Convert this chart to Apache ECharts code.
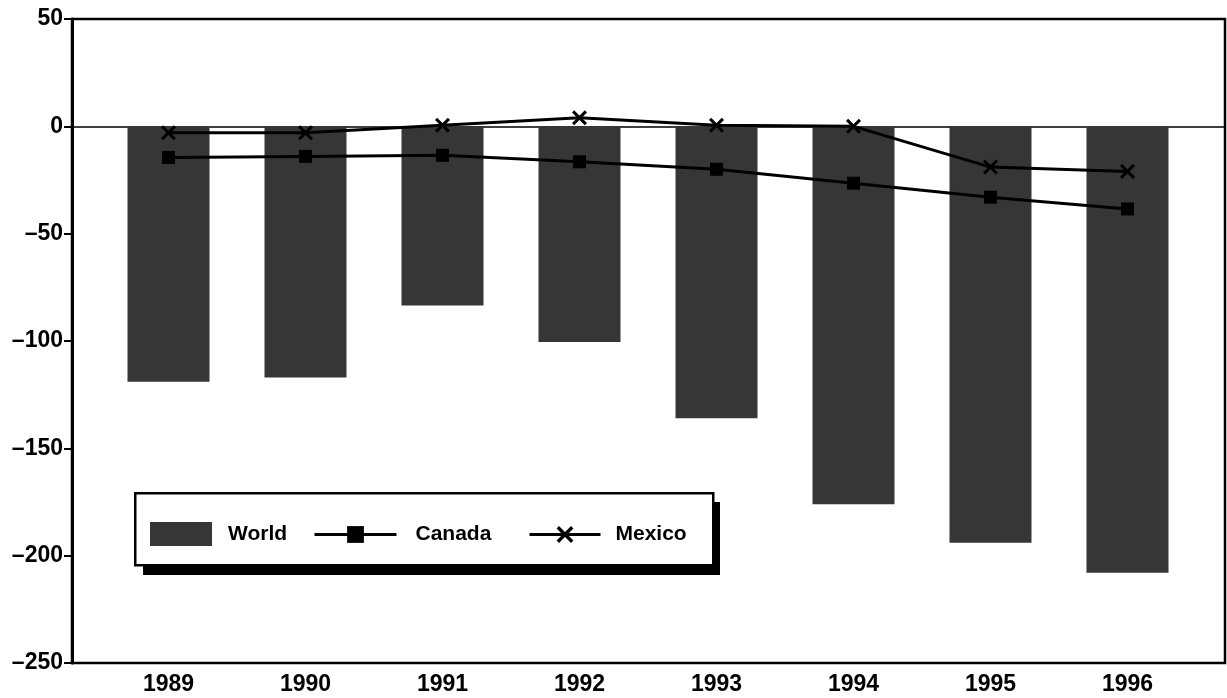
<!DOCTYPE html>
<html>
<head>
<meta charset="utf-8">
<script src="https://cdn.jsdelivr.net/npm/echarts@6/dist/echarts.min.js"></script>
<style>
html,body{margin:0;padding:0;background:#fff;}
#chart{width:1227px;height:698px;}
</style>
</head>
<body>
<div id="chart"></div>
<script>
const years = ['1989', '1990', '1991', '1992', '1993', '1994', '1995', '1996'];
const world = [-119, -117, -83.5, -100.5, -136, -176, -194, -208];
const canada = [-14.5, -14, -13.5, -16.5, -20, -26.5, -33, -38.5];
const mexico = [-3, -3, 0.5, 4, 0.5, 0, -19, -21];
const yMin = -250, yMax = 50, yStep = 50;

const FONT = 'Liberation Sans';
const labelFmt = v => (v < 0 ? '\u2013' + Math.abs(v) : String(v));
const xSymbol = 'path://M0,2L2,0L14,12L12,14Z M12,0L14,2L2,14L0,12Z';
const legendText = pad => ({color: '#000', fontFamily: FONT, fontWeight: 'bold', fontSize: 21, padding: [0, 0, 0, pad]});

const chart = echarts.init(document.getElementById('chart'), null, {renderer: 'canvas'});
chart.setOption({
  animation: false,
  backgroundColor: '#fff',
  textStyle: {fontFamily: FONT},
  grid: [
    {left: 72, right: 2, top: 19, bottom: 35, show: true, borderColor: '#000', borderWidth: 2.5, backgroundColor: 'transparent'},
    {left: 100, width: 1096, top: 19, bottom: 35}
  ],
  xAxis: [
    {type: 'value', gridIndex: 0, min: 0, max: 1, axisLine: {show: true, onZero: true, lineStyle: {color: '#000', width: 1.5}},
     axisTick: {show: false}, axisLabel: {show: false}, splitLine: {show: false}},
    {type: 'category', gridIndex: 1, data: years, boundaryGap: true,
     axisLine: {show: false, onZero: false}, axisTick: {show: false}, splitLine: {show: false},
     axisLabel: {color: '#000', fontFamily: FONT, fontWeight: 'bold', fontSize: 23, margin: 10}}
  ],
  yAxis: [
    {type: 'value', gridIndex: 0, min: yMin, max: yMax, interval: yStep,
     axisLine: {show: true, lineStyle: {color: '#000', width: 3}},
     axisTick: {show: true, length: 8, lineStyle: {color: '#000', width: 2}},
     splitLine: {show: false},
     axisLabel: {color: '#000', fontFamily: FONT, fontWeight: 'bold', fontSize: 23, margin: 9, formatter: labelFmt}},
    {type: 'value', gridIndex: 1, min: yMin, max: yMax, interval: yStep, show: false}
  ],
  legend: [
    {data: [{name: 'World', icon: 'rect'}], left: 150, top: 522, itemWidth: 62, itemHeight: 24, padding: 0, selectedMode: false,
     textStyle: legendText(11)},
    {data: ['Canada'], left: 313, top: 524, itemWidth: 82, itemHeight: 21, padding: 0, selectedMode: false,
     lineStyle: {width: 3}, textStyle: legendText(14)},
    {data: ['Mexico'], left: 528, top: 524, itemWidth: 71, itemHeight: 21, padding: 0, selectedMode: false,
     lineStyle: {width: 3}, textStyle: legendText(10)}
  ],
  graphic: [
    {type: 'rect', left: 143, top: 502, z: 3, shape: {width: 577, height: 73},
     style: {fill: '#000', lineWidth: 0}},
    {type: 'rect', left: 134, top: 492, z: 3, shape: {width: 578, height: 72},
     style: {fill: '#fff', stroke: '#000', lineWidth: 2.5}}
  ],
  series: [
    {name: 'World', type: 'bar', xAxisIndex: 1, yAxisIndex: 1, data: world, barWidth: 82, z: 2,
     itemStyle: {color: '#363636'}},
    {name: 'Canada', type: 'line', xAxisIndex: 1, yAxisIndex: 1, data: canada, z: 3,
     symbol: 'rect', symbolSize: 13, lineStyle: {color: '#000', width: 3}, itemStyle: {color: '#000'}},
    {name: 'Mexico', type: 'line', xAxisIndex: 1, yAxisIndex: 1, data: mexico, z: 3,
     symbol: xSymbol, symbolSize: 15, lineStyle: {color: '#000', width: 3}, itemStyle: {color: '#000'}}
  ]
});
</script>
</body>
</html>
